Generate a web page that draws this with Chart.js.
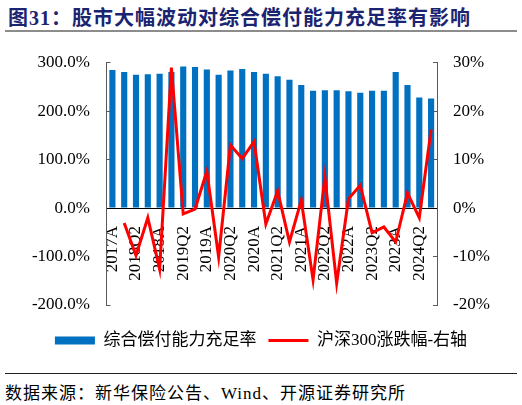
<!DOCTYPE html>
<html>
<head>
  <meta charset="utf-8">
  <title>股市大幅波动对综合偿付能力充足率有影响</title>
  <style>
    body {
      margin: 0;
      width: 522px;
      height: 405px;
      position: relative;
      background: #fff;
      font-family: "Liberation Serif", "Noto Sans CJK SC", serif;
      overflow: hidden;
    }

    #title {
      position: absolute;
      left: 8px;
      top: 2px;
      font-size: 20px;
      font-weight: bold;
      letter-spacing: 1px;
      color: #1b2470;
      white-space: nowrap;
    }

    #title-rule {
      position: absolute;
      left: 5px;
      top: 30px;
      width: 512px;
      height: 2px;
      background: #8c8c8c;
    }

    #chart-container {
      position: absolute;
      left: 0;
      top: 32px;
      width: 522px;
      height: 330px;
    }

    #foot-rule {
      position: absolute;
      left: 5px;
      top: 373px;
      width: 512px;
      height: 1px;
      background: #222;
    }

    #source {
      position: absolute;
      left: 5px;
      top: 379px;
      font-size: 17px;
      letter-spacing: 1px;
      color: #000;
      white-space: nowrap;
    }
  </style>
</head>
<body>
  <div id="title">图31：股市大幅波动对综合偿付能力充足率有影响</div>
  <div id="title-rule"></div>

  <div id="chart-container">
    <canvas id="chart"></canvas>
  </div>

  <div id="foot-rule"></div>
  <div id="source">数据来源：新华保险公告、Wind、开源证券研究所</div>

  <script src="https://cdn.jsdelivr.net/npm/chart.js"></script>
  <script>
    // periods: 2017A then every quarter up to 2024Q3
    const periods = [
      "2017A",
      "2018Q1", "2018Q2", "2018Q3", "2018A",
      "2019Q1", "2019Q2", "2019Q3", "2019A",
      "2020Q1", "2020Q2", "2020Q3", "2020A",
      "2021Q1", "2021Q2", "2021Q3", "2021A",
      "2022Q1", "2022Q2", "2022Q3", "2022A",
      "2023Q1", "2023Q2", "2023Q3", "2023A",
      "2024Q1", "2024Q2", "2024Q3"
    ];

    // 综合偿付能力充足率 (%), left axis
    const solvencyRatio = [
      285,
      281, 275, 276, 277,
      281, 292, 291, 286,
      275, 284, 287, 281,
      277, 272, 265, 254,
      242, 243, 243, 241,
      238, 242, 242, 281,
      254, 228, 226
    ];

    // 沪深300涨跌幅 (%), right axis
    const csi300Change = [
      null,
      -3.1, -9.8, -2.0, -12.6,
      29.0, -1.2, -0.2, 7.6,
      -10.1, 13.0, 10.2, 13.7,
      -3.3, 3.5, -7.0, 1.6,
      -14.8, 6.4, -15.5, 1.9,
      4.7, -5.1, -3.9, -7.0,
      3.1, -2.0, 16.2
    ];

    const leftTicks = { min: -200, max: 300, step: 100 };
    const rightTicks = { min: -20, max: 30, step: 10 };

    const axisFont = { family: "'Liberation Serif', serif", size: 17 };
    const axisColor = "#595959";

    const ctx = document.getElementById("chart").getContext("2d");
    new Chart(ctx, {
      data: {
        labels: periods,
        datasets: [
          {
            type: "line",
            label: "沪深300涨跌幅-右轴",
            data: csi300Change,
            yAxisID: "y1",
            borderColor: "#ff0000",
            backgroundColor: "#ff0000",
            borderWidth: 3,
            pointRadius: 0,
            pointHoverRadius: 0,
            pointStyle: "line",
            tension: 0,
            order: 1
          },
          {
            type: "bar",
            label: "综合偿付能力充足率",
            data: solvencyRatio,
            yAxisID: "y",
            backgroundColor: "#0070c0",
            borderWidth: 0,
            barPercentage: 0.52,
            categoryPercentage: 1.0,
            pointStyle: "rect",
            order: 2
          }
        ]
      },
      options: {
        responsive: true,
        maintainAspectRatio: false,
        animation: false,
        layout: {
          padding: { top: 28, bottom: 3, left: 0, right: 0 }
        },
        scales: {
          x: {
            type: "category",
            position: { y: 0 },
            afterFit: (scale) => { scale.height = 0; },
            grid: { display: false },
            border: { display: true, color: "#000", width: 1 },
            ticks: {
              autoSkip: false,
              minRotation: 90,
              maxRotation: 90,
              padding: 10,
              color: "#000",
              font: axisFont,
              callback: function (value, index) {
                return index % 2 === 0 ? this.getLabelForValue(value) : "";
              }
            }
          },
          y: {
            position: "left",
            min: leftTicks.min,
            max: leftTicks.max,
            afterFit: (scale) => { scale.width = 106.5; },
            grid: {
              display: true,
              drawOnChartArea: false,
              drawTicks: true,
              tickLength: -4,
              color: axisColor
            },
            border: { display: true, color: axisColor, width: 1 },
            ticks: {
              stepSize: leftTicks.step,
              padding: 20.5,
              color: "#000",
              font: axisFont,
              callback: (v) => v.toFixed(1) + "%"
            }
          },
          y1: {
            position: "right",
            min: rightTicks.min,
            max: rightTicks.max,
            afterFit: (scale) => { scale.width = 85; },
            grid: {
              display: true,
              drawOnChartArea: false,
              drawTicks: true,
              tickLength: -4,
              color: axisColor
            },
            border: { display: true, color: axisColor, width: 1 },
            ticks: {
              stepSize: rightTicks.step,
              padding: 20,
              color: "#000",
              font: axisFont,
              callback: (v) => v + "%"
            }
          }
        },
        plugins: {
          title: { display: false },
          tooltip: { enabled: false },
          legend: {
            position: "bottom",
            reverse: true,
            // empty legend title only used as vertical spacer
            title: {
              display: true,
              text: " ",
              font: { size: 1 },
              padding: { top: 0, bottom: 13.8 }
            },
            labels: {
              usePointStyle: true,
              pointStyleWidth: 40,
              boxHeight: 8,
              padding: 12,
              color: "#000",
              font: { family: "'Liberation Serif', 'Noto Sans CJK SC', serif", size: 17 }
            }
          }
        }
      }
    });
  </script>
</body>
</html>
